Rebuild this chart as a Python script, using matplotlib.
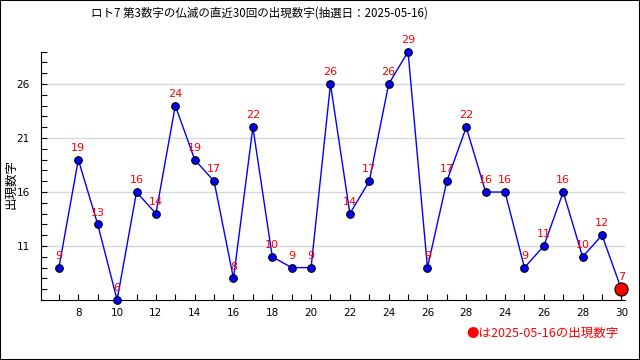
import matplotlib
matplotlib.use("Agg")
import matplotlib.pyplot as plt
from matplotlib.patches import Rectangle

plt.rcParams['font.family'] = ['Noto Sans CJK JP', 'DejaVu Sans']

# data
draw_pos = list(range(1, 31))
numbers = [9, 19, 13, 6, 16, 14, 24, 19, 17, 8, 22, 10, 9, 9, 26,
           14, 17, 26, 29, 9, 17, 22, 16, 16, 9, 11, 16, 10, 12, 7]
tick_pos = list(range(2, 31, 2))
tick_labels = ["8", "10", "12", "14", "16", "18", "20", "22", "24", "26",
               "28", "24", "26", "28", "30"]
y_ticks = [11, 16, 21, 26]
title = "ロト7 第3数字の仏滅の直近30回の出現数字(抽選日：2025-05-16)"
note = "●は2025-05-16の出現数字"

fig = plt.figure(figsize=(6.4, 3.6), dpi=100)
ax = fig.add_axes([0.0636, 0.1667, 0.9134, 0.6897])

ax.plot(draw_pos, numbers, color="#0000ff", lw=1, zorder=2)
ax.scatter(draw_pos[:-1], numbers[:-1], s=30, color="#0000ff",
           edgecolors="black", linewidths=0.8, zorder=3, clip_on=False)
ax.scatter(draw_pos[-1:], numbers[-1:], s=90, color="#ff0000",
           edgecolors="black", linewidths=0.8, zorder=4, clip_on=False)

for x, v in zip(draw_pos, numbers):
    ax.annotate(str(v), (x, v), xytext=(0, 8.5), textcoords="offset points",
                ha="center", va="center", color="#ff0000", fontsize=8,
                family="DejaVu Sans", zorder=5, annotation_clip=False)

ax.set_xlim(0.06, 30.2)
ax.set_ylim(6, 29)
ax.set_xticks(draw_pos, minor=True)
ax.set_xticks(tick_pos)
ax.set_xticklabels(tick_labels, family="DejaVu Sans", fontsize=7.5)
ax.set_yticks(range(6, 30), minor=True)
ax.set_yticks(y_ticks)
ax.set_yticklabels([str(t) for t in y_ticks], family="DejaVu Sans", fontsize=7.5)
ax.tick_params(which="both", direction="in", length=4, width=0.8, pad=8)
ax.tick_params(axis="x", pad=6)
ax.grid(axis="y", which="major", color="#d8d8d8", lw=1)
ax.set_axisbelow(True)
for s in ["top", "right"]:
    ax.spines[s].set_visible(False)

fig.text(0.017, 0.49, "出現数字", rotation=90, ha="center", va="center", fontsize=9)
fig.text(0.406, 0.963, title, ha="center", va="center", fontsize=8.3)
fig.text(0.966, 0.075, note, ha="right", va="center", color="#ff0000", fontsize=9)

fig.patches.append(Rectangle((0, 0), 1, 1, transform=fig.transFigure,
                             fill=False, edgecolor="black", lw=1.5))

fig.savefig("out.png", dpi=100, facecolor="white")
